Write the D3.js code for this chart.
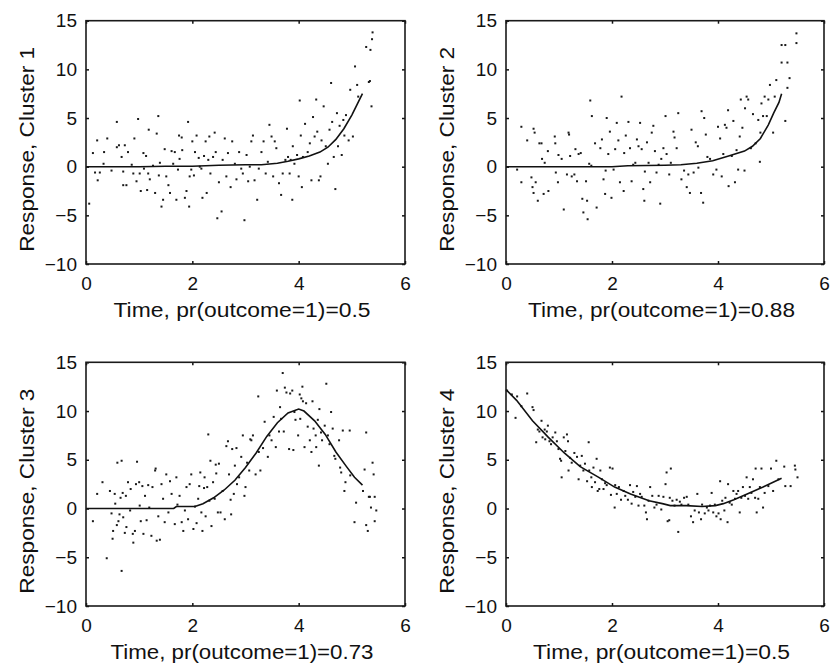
<!DOCTYPE html>
<html>
<head>
<meta charset="utf-8">
<script src="https://cdn.jsdelivr.net/npm/d3@7"></script>
<style>
  body { margin: 0; background: #fff; }
  svg { display: block; }
  .tick text { font-family: "Liberation Sans", Arial, sans-serif; font-size: 19px; fill: #111; }
  .lbl { font-family: "Liberation Sans", Arial, sans-serif; font-size: 20px; fill: #111; }
</style>
</head>
<body>
<div id="chart"></div>
<script>
// tick labels
let xTicks = [0, 2, 4, 6];
let yTicks = [-10, -5, 0, 5, 10, 15];

let xLabels = ["Time, pr(outcome=1)=0.5", "Time, pr(outcome=1)=0.88", "Time, pr(outcome=1)=0.73", "Time, pr(outcome=1)=0.5"];
let yLabels = ["Response, Cluster 1", "Response, Cluster 2", "Response, Cluster 3", "Response, Cluster 4"];

// cluster 1 scatter
let dotX1 = [0.06,0.13,0.17,0.21,0.22,0.26,0.33,0.34,0.4,0.48,0.58,0.58,0.62,0.67,0.7,0.7,0.73,0.76,0.79,0.86,0.89,0.91,0.95,0.98,1.01,1.03,1.08,1.09,1.13,1.15,1.17,1.18,1.2,1.26,1.3,1.33,1.36,1.37,1.39,1.42,1.45,1.48,1.51,1.55,1.58,1.61,1.64,1.67,1.7,1.73,1.75,1.76,1.8,1.81,1.86,1.89,1.92,1.94,1.95,1.98,2.0,2.03,2.05,2.08,2.12,2.14,2.17,2.19,2.22,2.25,2.27,2.3,2.32,2.34,2.39,2.42,2.44,2.47,2.5,2.55,2.57,2.61,2.64,2.67,2.72,2.75,2.8,2.83,2.88,2.92,2.95,2.98,3.02,3.05,3.08,3.11,3.14,3.17,3.22,3.25,3.3,3.34,3.38,3.42,3.45,3.49,3.52,3.55,3.58,3.63,3.67,3.7,3.75,3.78,3.8,3.83,3.85,3.88,3.89,3.92,3.97,4.0,4.02,4.04,4.06,4.08,4.12,4.17,4.21,4.24,4.27,4.3,4.33,4.35,4.38,4.41,4.43,4.47,4.51,4.55,4.58,4.61,4.63,4.66,4.69,4.72,4.74,4.77,4.81,4.84,4.86,4.89,4.94,4.97,5.02,5.06,5.1,5.12,5.27,5.32,5.34,5.35,5.37,5.38,5.39];
let dotY1 = [-3.8,1.4,-0.6,2.7,-1.4,-0.6,0.3,1.5,2.9,-0.4,4.6,2.0,2.2,1.0,-0.5,-1.9,2.2,-1.9,1.5,0.2,-0.7,2.9,-1.5,4.9,-0.7,-2.5,1.4,-0.2,1.1,-2.4,-0.7,3.8,-1.3,0.1,-2.7,3.4,5.2,-0.9,0.4,-4.1,-3.4,1.8,-1.0,-1.9,-2.7,1.6,0.3,1.5,-3.4,-0.3,3.2,0.8,3.0,1.7,-3.2,-2.5,4.6,-4.1,-1.0,-0.3,2.6,-0.9,1.5,3.2,0.9,0,-0.2,-3.2,1.1,2.6,-2.7,0.7,3.1,-0.7,1.0,3.5,1.5,-5.3,-1.6,-4.6,0.7,2.9,-1.0,1.4,-2.1,2.6,0.3,-1.3,1.5,-0.2,-0.7,-5.5,1.2,-1.5,0,2.6,3.2,-1.4,-3.4,-0.2,1.5,2.6,-0.7,0.5,4.3,3.1,-1.0,2.6,1.9,-1.7,-2.9,-0.7,0.7,3.9,1.0,-0.7,0.7,-3.4,2.1,0.3,1.2,-1.0,6.8,3.2,-2.1,1.0,4.4,1.5,2.4,-1.4,5.1,3.1,6.9,3.6,-1.4,-1.0,2.7,6.2,2.1,0.3,3.8,8.6,4.6,1.0,-2.3,5.5,2.1,4.2,1.2,4.8,3.2,5.3,2.7,7.9,3.1,10.3,8.4,7.2,12.3,8.7,8.8,12.0,6.2,13.1,13.8];
let curveX1 = [0,0.5,1,1.5,2,2.5,3,3.3,3.6,3.8,4.0,4.2,4.4,4.55,4.7,4.85,5.0,5.1,5.2];
let curveY1 = [0,0,0,0.05,0.05,0.15,0.2,0.2,0.35,0.55,0.8,1.1,1.5,2.0,2.8,3.9,5.3,6.4,7.5];

// cluster 2 scatter
let dotX2 = [0.21,0.29,0.29,0.4,0.48,0.5,0.52,0.52,0.54,0.56,0.6,0.63,0.67,0.68,0.71,0.73,0.79,0.8,0.92,0.93,0.94,0.98,0.99,1.05,1.09,1.15,1.18,1.19,1.21,1.24,1.29,1.31,1.34,1.37,1.41,1.44,1.46,1.51,1.53,1.54,1.57,1.59,1.61,1.62,1.68,1.71,1.78,1.81,1.84,1.87,1.88,1.9,1.93,1.96,1.99,2.03,2.06,2.09,2.12,2.15,2.18,2.22,2.23,2.26,2.31,2.34,2.37,2.4,2.44,2.47,2.5,2.53,2.56,2.59,2.61,2.62,2.66,2.69,2.72,2.75,2.78,2.81,2.84,2.88,2.91,2.93,2.97,3.01,3.03,3.08,3.11,3.16,3.18,3.22,3.25,3.31,3.36,3.41,3.44,3.47,3.5,3.54,3.58,3.62,3.63,3.68,3.69,3.72,3.74,3.77,3.8,3.85,3.91,3.97,4.0,4.04,4.07,4.1,4.13,4.16,4.19,4.2,4.26,4.29,4.32,4.35,4.38,4.41,4.43,4.46,4.5,4.51,4.54,4.57,4.62,4.66,4.71,4.76,4.79,4.8,4.82,4.85,4.88,4.92,4.95,4.98,5.04,5.07,5.1,5.2,5.2,5.27,5.27,5.31,5.31,5.35,5.48,5.48];
let dotY2 = [-0.3,-1.6,4.1,2.7,-1.1,-2.1,-2.7,3.9,3.5,-1.6,-3.5,2.4,2.4,0.8,-2.8,0.4,1.6,-2.5,3.1,2.4,-0.6,-1.6,1.2,0.8,-4.4,-0.8,3.5,3.3,1.1,-1.0,-0.8,1.8,-1.5,1.3,1.4,-3.3,-4.7,-1.5,-3.5,-5.4,0.3,6.8,0.1,5.2,2.4,-4.2,1.9,2.8,-1.3,-2.8,-0.4,5.0,1.3,3.6,-3.2,-0.3,1.8,4.5,2.7,-1.6,7.2,-2.5,1.4,3.2,4.6,1.9,-1.5,0.2,0.4,2.8,2.1,4.5,1.8,-2.3,-3.5,-0.5,2.5,0.4,-1.6,3.5,4.2,1.6,-0.6,0.2,-3.8,0.8,1.9,5.2,1.3,-0.8,0.4,3.6,3.0,1.9,5.5,-1.3,-0.4,-2.1,-0.8,-2.7,3.8,-0.6,2.5,2.1,-0.1,-2.7,5.7,-3.7,5.0,3.3,1.0,0.8,-0.8,-0.3,4.1,2.9,-1.0,1.3,4.3,4.0,5.8,-2.0,1.1,4.7,-1.6,1.7,-0.3,3.1,6.9,4.0,-0.4,6.0,7.2,6.9,1.9,5.4,2.4,4.8,0.5,3.5,6.5,5.2,7.2,5.2,6.9,8.4,3.5,7.2,8.9,10.7,12.5,12.5,4.7,10.7,8.1,9.1,13.7,12.7];
let curveX2 = [0,1,2,2.3,3,3.3,3.6,3.9,4.2,4.5,4.65,4.8,4.95,5.05,5.15,5.2];
let curveY2 = [0,0,0,0.1,0.15,0.2,0.35,0.6,1.1,1.6,2.1,2.9,4.3,5.5,6.6,7.5];

// cluster 3 scatter
let dotX3 = [0.13,0.21,0.31,0.39,0.45,0.48,0.5,0.51,0.54,0.55,0.58,0.59,0.61,0.63,0.65,0.67,0.67,0.69,0.7,0.73,0.75,0.76,0.79,0.83,0.84,0.88,0.89,0.92,0.94,0.96,1.0,1.01,1.03,1.06,1.08,1.11,1.14,1.17,1.19,1.23,1.25,1.3,1.31,1.33,1.36,1.39,1.42,1.45,1.48,1.51,1.55,1.58,1.61,1.67,1.7,1.72,1.76,1.8,1.83,1.86,1.89,1.92,1.95,1.98,2.02,2.05,2.08,2.11,2.13,2.15,2.17,2.19,2.22,2.23,2.25,2.28,2.3,2.32,2.34,2.36,2.39,2.42,2.44,2.45,2.48,2.5,2.53,2.57,2.61,2.64,2.67,2.69,2.72,2.73,2.75,2.78,2.8,2.83,2.84,2.88,2.92,2.95,2.98,3.0,3.03,3.07,3.09,3.11,3.14,3.19,3.24,3.25,3.28,3.33,3.36,3.42,3.45,3.49,3.53,3.57,3.59,3.63,3.65,3.67,3.7,3.72,3.74,3.77,3.82,3.84,3.88,3.9,3.92,3.94,3.99,4.02,4.03,4.05,4.07,4.08,4.11,4.14,4.17,4.21,4.24,4.26,4.28,4.32,4.33,4.36,4.38,4.39,4.42,4.44,4.49,4.52,4.55,4.58,4.61,4.64,4.67,4.69,4.76,4.78,4.8,4.83,4.86,4.88,4.96,4.97,5.05,5.08,5.21,5.24,5.27,5.27,5.3,5.32,5.34,5.36,5.39,5.41,5.43,5.43,5.46];
let dotY3 = [-1.3,1.5,2.7,-5.1,1.8,-0.5,-3.1,-2.3,1.5,0.5,-1.7,4.7,-1.3,-0.6,1.1,-6.4,4.9,1.6,-0.9,-2.5,1.3,-1.9,2.7,-0.2,2.0,-2.6,-3.5,-2.3,2.5,4.8,2.7,0.3,-1.3,2.3,-2.6,1.3,-1.2,2.4,0.1,-2.8,2.2,3.9,4.1,-3.3,-0.8,-3.2,2.5,1.0,-1.4,3.5,-0.4,2.8,1.5,-1.6,3.2,0.4,1.3,-1.4,-2.3,-0.2,2.2,-1.1,2.5,3.5,-2.1,0.2,-1.5,1.0,2.3,3.7,-0.4,-2.3,2.1,3.2,-0.8,2.2,7.6,0.8,4.9,-1.8,2.7,1.0,4.5,3.6,-0.4,4.6,-0.4,1.8,-1.1,6.4,6.9,3.5,0.9,-0.6,6.1,1.5,4.4,6.2,2.5,3.2,5.3,7.5,1.3,2.2,4.7,3.9,7.1,7.0,7.5,3.5,11.5,5.8,3.9,6.2,8.9,5.3,7.5,7.0,9.4,6.3,12.1,7.9,10.4,9.2,13.9,7.9,12.4,11.9,6.1,11.8,12.1,6.0,9.9,9.1,7.5,11.7,9.2,11.3,12.5,11.0,6.3,10.8,8.4,7.0,5.8,11.0,8.2,7.5,6.3,9.1,4.4,10.2,7.8,7.0,8.5,12.8,7.5,6.6,9.9,8.2,5.4,5.1,7.0,4.2,3.7,8.0,1.8,2.7,8.0,3.4,-1.4,0.6,1.8,4.0,-1.7,7.8,-2.3,1.2,1.2,0.1,4.7,3.5,1.2,-1.3,-0.2];
let curveX3 = [0,1.0,1.65,1.7,2.05,2.2,2.4,2.6,2.8,3.0,3.2,3.4,3.6,3.8,4.0,4.1,4.3,4.5,4.7,4.9,5.05,5.2];
let curveY3 = [0,0,0,0.2,0.2,0.5,1.1,1.9,2.9,4.2,5.7,7.4,8.8,9.8,10.2,10.0,9.0,7.6,5.8,4.3,3.2,2.4];

// cluster 4 scatter
let dotX4 = [0.02,0.11,0.18,0.21,0.29,0.4,0.5,0.52,0.57,0.6,0.63,0.67,0.69,0.73,0.74,0.77,0.79,0.82,0.85,0.88,0.93,0.96,0.99,1.02,1.04,1.05,1.09,1.12,1.15,1.17,1.18,1.21,1.24,1.29,1.34,1.37,1.4,1.43,1.46,1.49,1.53,1.56,1.57,1.61,1.62,1.65,1.68,1.71,1.73,1.76,1.78,1.81,1.84,1.87,1.9,1.96,1.98,2.01,2.05,2.06,2.09,2.13,2.17,2.22,2.25,2.3,2.34,2.37,2.4,2.44,2.47,2.5,2.53,2.56,2.61,2.64,2.66,2.69,2.72,2.76,2.8,2.84,2.88,2.93,2.97,3.01,3.03,3.05,3.08,3.09,3.11,3.14,3.18,3.22,3.25,3.28,3.31,3.36,3.41,3.44,3.49,3.53,3.56,3.61,3.64,3.68,3.7,3.75,3.79,3.82,3.85,3.88,3.91,3.94,3.97,4.01,4.04,4.05,4.08,4.12,4.14,4.18,4.19,4.22,4.26,4.29,4.32,4.35,4.38,4.41,4.44,4.47,4.51,4.54,4.57,4.6,4.63,4.66,4.7,4.71,4.73,4.76,4.79,4.82,4.85,4.88,4.95,5.0,5.04,5.1,5.14,5.25,5.27,5.37,5.45,5.46,5.5];
let dotY4 = [12.1,11.7,9.3,11.5,10.5,11.8,10.4,10.1,6.8,8.1,7.9,9.0,7.3,8.1,7.1,7.9,8.5,6.9,6.6,7.3,7.8,6.9,6.1,5.1,4.9,3.2,7.3,5.9,7.6,6.9,3.9,5.2,4.7,5.7,5.3,3.0,4.4,5.4,3.9,4.6,2.8,6.8,3.9,3.2,2.2,4.2,2.7,5.1,1.8,2.0,3.9,3.0,2.0,2.6,2.4,4.2,1.4,4.1,0.1,2.4,1.5,2.2,0.9,1.8,1.3,0.9,2.4,0.5,1.7,1.2,2.3,0.3,1.5,1.2,0.3,-0.4,-1.1,0.8,2.2,1.3,0.1,0.4,1.3,-0.1,1.2,2.5,3.7,-1.3,-1.2,1.1,4.1,0.8,0.3,0.9,-2.4,0.7,0.4,1.1,1.2,0.4,-0.8,-1.4,-0.2,1.5,-0.4,-1.1,0.4,-0.5,0.1,-0.2,0.3,1.6,-0.4,0.4,-0.8,-0.5,2.8,-1.1,0.8,-0.2,1.1,-1.4,2.5,0.6,0.4,1.8,1.0,1.5,1.8,-0.4,1.1,2.2,1.3,3.2,1.0,2.2,1.6,3.0,1.1,4.1,-0.4,1.0,2.2,4.1,0.1,1.6,2.3,4.1,1.8,4.9,3.0,4.3,2.3,2.3,4.4,4.0,3.2];
let curveX4 = [0,0.2,0.5,0.8,1.1,1.4,1.75,2.05,2.35,2.7,2.95,3.1,3.4,3.7,3.95,4.1,4.3,4.55,4.85,5.2];
let curveY4 = [12.2,11.1,9.0,7.3,5.7,4.3,3.2,2.2,1.5,0.8,0.5,0.3,0.3,0.2,0.3,0.5,0.9,1.5,2.2,3.1];

let dotsX = [dotX1, dotX2, dotX3, dotX4];
let dotsY = [dotY1, dotY2, dotY3, dotY4];
let curvesX = [curveX1, curveX2, curveX3, curveX4];
let curvesY = [curveY1, curveY2, curveY3, curveY4];

let width = 830, height = 668;

// plot boxes, one per panel
let boxes = [
  {left: 86, right: 405, top: 20.7, bottom: 264, xLen: 257},
  {left: 506, right: 824, top: 20.7, bottom: 264, xLen: 267},
  {left: 86, right: 405, top: 362.3, bottom: 606, xLen: 263},
  {left: 506, right: 824, top: 362.3, bottom: 606, xLen: 257}
];

let svg = d3.select("#chart")
  .append("svg")
  .attr("width", width)
  .attr("height", height);

boxes.forEach(function(b, i){
  let w = b.right - b.left, h = b.bottom - b.top;
  let x = d3.scaleLinear().domain([0, 6]).range([0, w]);
  let y = d3.scaleLinear().domain([-10, 15]).range([h, 0]);

  let g = svg.append("g")
    .attr("class", "panel")
    .attr("transform", "translate(" + b.left + "," + b.top + ")");

  // scatter dots
  let pts = dotsX[i].map(function(d, k){ return [d, dotsY[i][k]]; });
  g.append("g").selectAll("rect")
    .data(pts)
    .enter().append("rect")
      .attr("x", function(d){ return x(d[0]) - 1; })
      .attr("y", function(d){ return y(d[1]) - 1; })
      .attr("width", 2)
      .attr("height", 2)
      .style("fill", "#1a1a1a");

  // fitted curve
  let line = d3.line()
    .x(function(d){ return x(d[0]); })
    .y(function(d){ return y(d[1]); });
  let cpts = curvesX[i].map(function(d, k){ return [d, curvesY[i][k]]; });
  g.append("path")
    .datum(cpts)
    .attr("d", line)
    .style("fill", "none")
    .style("stroke", "#111")
    .style("stroke-width", 1.6);

  // axes, ticks pointing inward like matlab
  g.append("g").attr("transform", "translate(0," + h + ")")
    .call(d3.axisBottom(x).tickValues(xTicks).tickFormat(d3.format("d")).tickSize(-3).tickPadding(12.5));
  g.append("g")
    .call(d3.axisLeft(y).tickValues(yTicks).tickFormat(d3.format("d")).tickSize(-3).tickPadding(9));
  g.append("g")
    .call(d3.axisTop(x).tickValues(xTicks).tickSize(-3).tickFormat(""));
  g.append("g").attr("transform", "translate(" + w + ",0)")
    .call(d3.axisRight(y).tickValues(yTicks).tickSize(-3).tickFormat(""));

  g.selectAll(".domain").remove();
  g.selectAll(".tick line").style("stroke", "#111").style("stroke-width", 1.5);

  g.append("rect")
    .attr("width", w)
    .attr("height", h)
    .style("fill", "none")
    .style("stroke", "#1a1a1a")
    .style("stroke-width", 1.6);

  // labels
  g.append("text")
    .attr("class", "lbl")
    .attr("x", w / 2 - 3.5)
    .attr("y", h + 52.7)
    .attr("text-anchor", "middle")
    .attr("textLength", b.xLen)
    .attr("lengthAdjust", "spacingAndGlyphs")
    .text(xLabels[i]);

  g.append("text")
    .attr("class", "lbl")
    .attr("transform", "translate(-52," + (h / 2 + 7) + ") rotate(-90)")
    .attr("text-anchor", "middle")
    .attr("textLength", 205)
    .attr("lengthAdjust", "spacingAndGlyphs")
    .text(yLabels[i]);
});
</script>
</body>
</html>
